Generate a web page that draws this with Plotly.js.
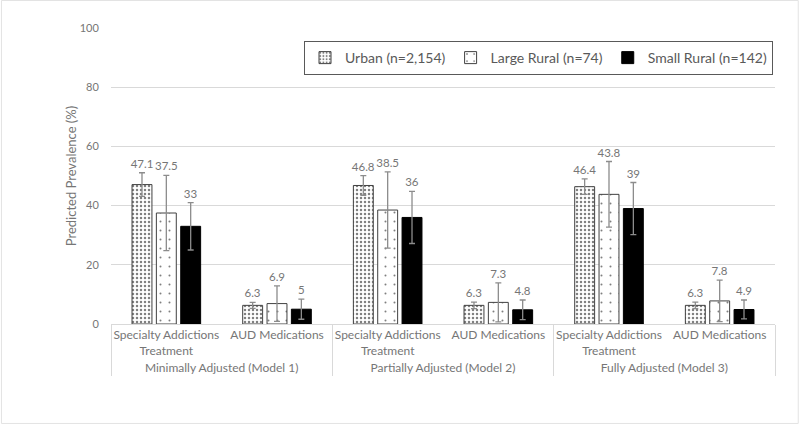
<!DOCTYPE html>
<html>
<head>
<meta charset="utf-8">
<script src="https://cdn.plot.ly/plotly-3.0.1.min.js"></script>
<style>html,body{margin:0;padding:0;background:#fff;}#chart{width:800px;height:425px;}</style>
</head>
<body>
<div id="chart"></div>
<script>
const groups = ['Minimally Adjusted (Model 1)', 'Partially Adjusted (Model 2)', 'Fully Adjusted (Model 3)'];
const outcomes = ['Specialty Addictions<br>Treatment', 'AUD Medications'];
const seriesNames = ['Urban (n=2,154)', 'Large Rural (n=74)', 'Small Rural (n=142)'];

const urban = [47.1, 6.3, 46.8, 6.3, 46.4, 6.3];
const urbanErr = [4.0, 1.0, 3.3, 1.1, 2.6, 1.1];
const largeRural = [37.5, 6.9, 38.5, 7.3, 43.8, 7.8];
const largeRuralErr = [12.7, 6.0, 12.9, 6.6, 11.1, 7.0];
const smallRural = [33, 5, 36, 4.8, 39, 4.9];
const smallRuralErr = [8.0, 3.4, 8.8, 3.3, 8.8, 3.2];

const xGroup = [], xOutcome = [];
groups.forEach(g => outcomes.forEach(o => { xGroup.push(g); xOutcome.push(o); }));
const x = [xGroup, xOutcome];

const series = [
  {name: seriesNames[0], y: urban, err: urbanErr,
   marker: {color: '#ffffff', line: {color: '#404040', width: 1},
            pattern: {shape: '.', fgcolor: '#000000', bgcolor: '#ffffff', size: 4, solidity: 0.3, fillmode: 'overlay'}}},
  {name: seriesNames[1], y: largeRural, err: largeRuralErr,
   marker: {color: '#ffffff', line: {color: '#404040', width: 1},
            pattern: {shape: '.', fgcolor: '#000000', bgcolor: '#ffffff', size: 9, solidity: 0.04, fillmode: 'overlay'}}},
  {name: seriesNames[2], y: smallRural, err: smallRuralErr,
   marker: {color: '#000000', line: {color: '#000000', width: 1}}}
];
const offsets = [-0.31, -0.09, 0.13];
const barWidth = 0.18;
const textColor = '#767676';
const fam = 'Lato, sans-serif';

const traces = [];
series.forEach((s, i) => {
  traces.push({
    type: 'bar', name: s.name, x: x, y: s.y,
    offset: offsets[i], width: barWidth,
    marker: s.marker,
    error_y: {type: 'data', array: s.err, visible: true, color: '#8c8c8c', thickness: 1.3, width: 3},
    hoverinfo: 'y'
  });
});
series.forEach((s, i) => {
  traces.push({
    type: 'bar', x: x, y: s.y.map((v, k) => v + s.err[k]),
    offset: offsets[i], width: barWidth,
    marker: {color: 'rgba(0,0,0,0)', line: {width: 0}},
    text: s.y.map(v => String(v)), textposition: 'outside', constraintext: 'none', cliponaxis: false,
    textfont: {family: fam, size: 11.5, color: textColor},
    showlegend: false, hoverinfo: 'skip'
  });
});

const layout = {
  width: 800, height: 425,
  margin: {l: 111, r: 25, t: 28, b: 101},
  paper_bgcolor: '#ffffff', plot_bgcolor: '#ffffff',
  font: {family: fam, size: 12, color: textColor},
  barmode: 'overlay',
  showlegend: true,
  legend: {orientation: 'h', x: 0.997, xanchor: 'right', y: 0.956, yanchor: 'top',
           bordercolor: '#595959', borderwidth: 1, bgcolor: '#ffffff',
           font: {family: fam, size: 14, color: '#595959'},
           itemwidth: 30, traceorder: 'normal'},
  xaxis: {type: 'multicategory', tickangle: 0, showline: true, linecolor: '#d9d9d9', linewidth: 1,
          showdividers: true, dividercolor: '#d9d9d9', dividerwidth: 1,
          ticks: '',
          tickfont: {family: fam, size: 12, color: textColor},
          showgrid: false, zeroline: false},
  yaxis: {range: [0, 100], dtick: 20, showgrid: true, gridcolor: '#d9d9d9', gridwidth: 1,
          zeroline: false, showline: false, ticks: 'outside', ticklen: 9, tickcolor: 'rgba(0,0,0,0)',
          tickfont: {family: fam, size: 11, color: textColor},
          title: {text: 'Predicted Prevalence (%)', standoff: 0,
                  font: {family: fam, size: 13, color: textColor}}},
  shapes: [{type: 'rect', xref: 'paper', yref: 'paper', x0: -0.165, x1: 1.035, y0: -0.336, y1: 1.093,
            line: {color: '#e3e3e3', width: 1}, fillcolor: 'rgba(0,0,0,0)', layer: 'below'}]
};

Plotly.newPlot('chart', traces, layout, {displayModeBar: false, staticPlot: true});
</script>
</body>
</html>
